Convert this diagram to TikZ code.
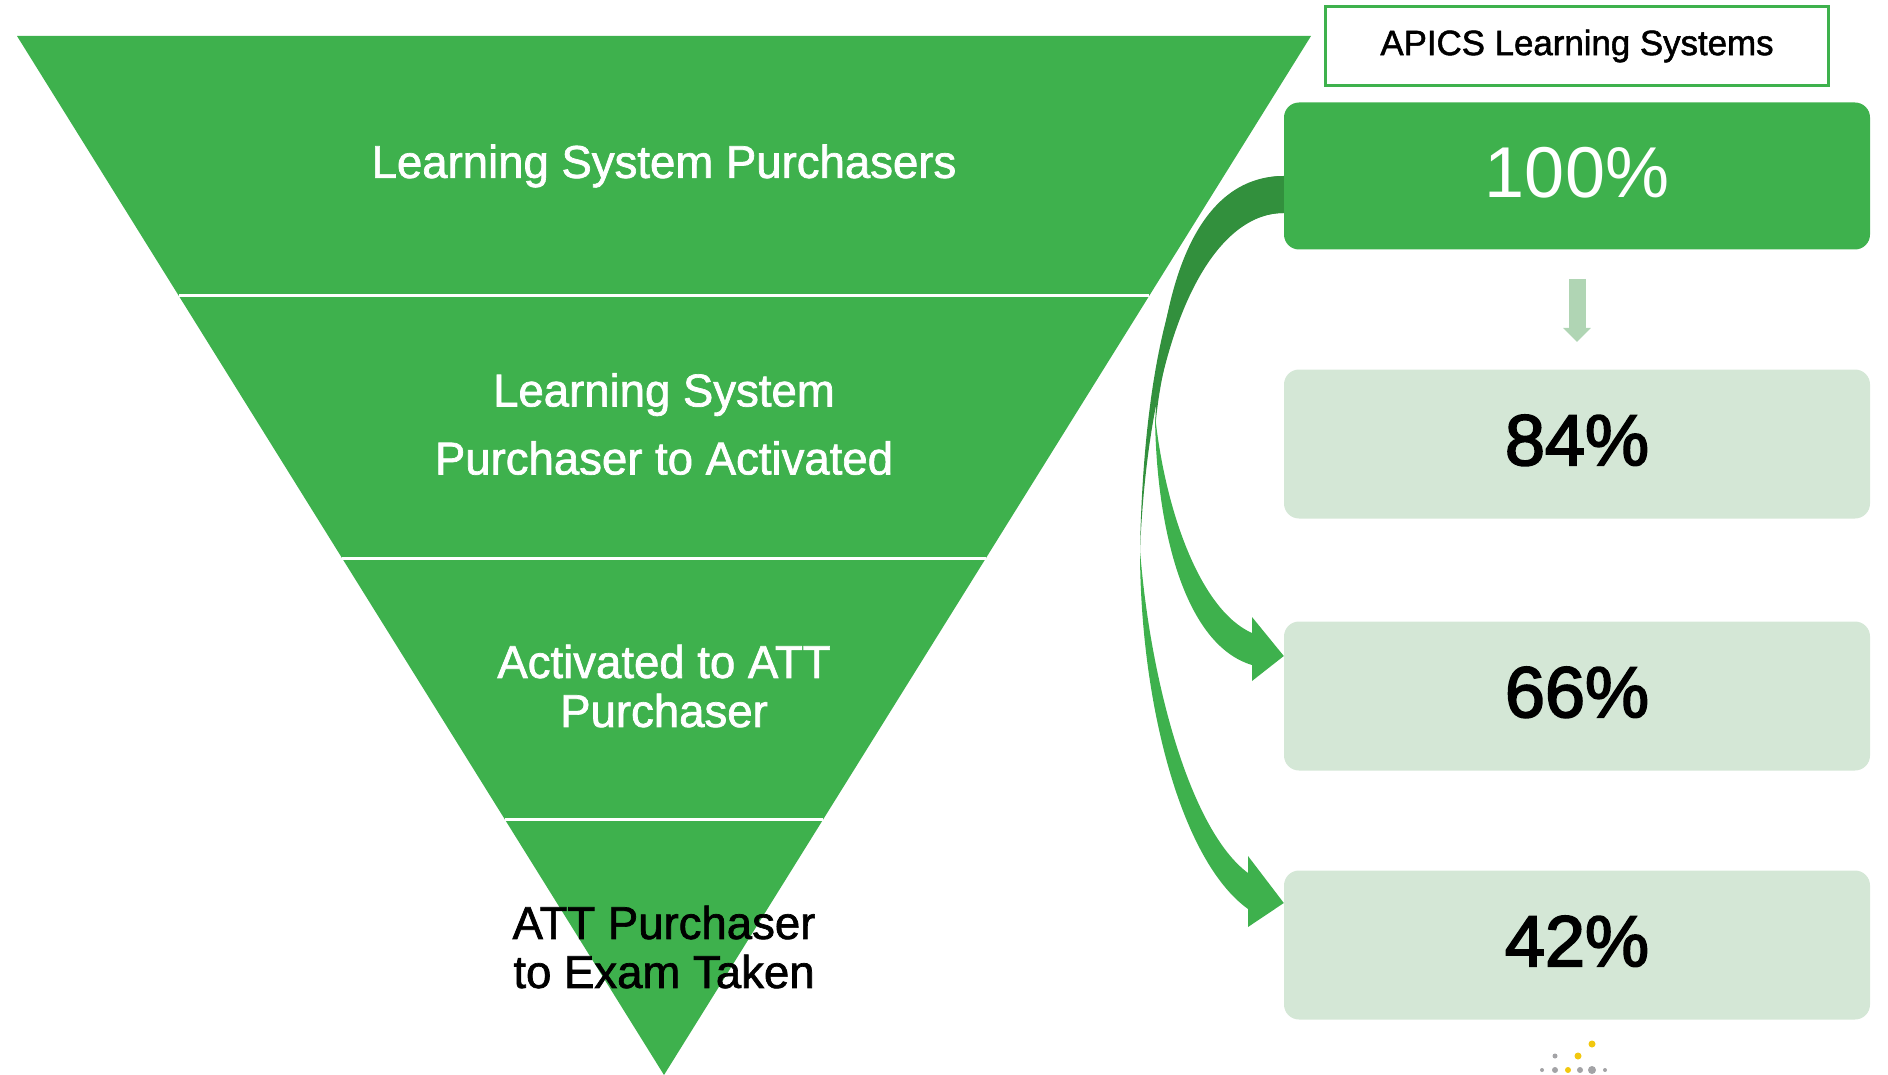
\documentclass[tikz,border=0pt]{standalone}
\usepackage{fontspec}
\setmainfont{Liberation Sans}[FakeStretch=0.99,FakeBold=1.5]
\newfontfamily\pctdark{Liberation Sans}[FakeBold=2.5]
\newfontfamily\pctlight{Liberation Sans}
\usetikzlibrary{arrows.meta}
\definecolor{fgreen}{HTML}{3EB14D}
\definecolor{dgreen}{HTML}{32903D}
\definecolor{pgreen}{HTML}{D4E7D6}
\definecolor{mgreen}{HTML}{B0D5B4}
\definecolor{dgrey}{HTML}{A3A3A6}
\definecolor{dgold}{HTML}{F2C80F}
\newcommand{\pcttxt}[1]{\raisebox{8pt}{#1}}
\tikzset{
  bandline/.style={white,line width=3pt},
  bandtext/.style={font=\fontsize{46}{49}\selectfont,align=center,inner sep=0pt},
  pctbox/.style={rounded corners=15pt,minimum width=586pt,minimum height=149pt,inner sep=0pt,fill=pgreen,font=\fontsize{72}{72}\selectfont\pctdark},
  dot/.style={circle,inner sep=0pt,fill=dgrey,minimum size=#1},
  gdot/.style={circle,inner sep=0pt,fill=dgold,minimum size=#1},
}
\begin{document}
\begin{tikzpicture}[x=1pt,y=-1pt]
\useasboundingbox (0,0) rectangle (1888,1075);
% funnel
\fill[fgreen] (17,36) -- (1311,36) -- (1149.1,296) -- (178.9,296) -- cycle;
\fill[fgreen] (178.9,296) -- (1149.1,296) -- (986,558) -- (342,558) -- cycle;
\fill[fgreen] (342,558) -- (986,558) -- (823.1,819.5) -- (504.9,819.5) -- cycle;
\fill[fgreen] (504.9,819.5) -- (823.1,819.5) -- (664,1075) -- cycle;
\draw[bandline] (178.9,296) -- (1149.1,296);
\draw[bandline] (342,558) -- (986,558);
\draw[bandline] (504.9,819.5) -- (823.1,819.5);
\node[bandtext,text=white] (t1) at (664,166) {Learning System Purchasers};
\node[bandtext,text=white,font=\fontsize{46}{68}\selectfont] (t2) at (664,424) {Learning System\\Purchaser to Activated};
\node[bandtext,text=white] (t3) at (664,686) {Activated to ATT\\Purchaser};
\node[bandtext,text=black] (t4) at (664,947) {ATT Purchaser\\to Exam Taken};
% header
\node[draw=fgreen,line width=3pt,fill=white,minimum width=503pt,minimum height=79pt,inner sep=0pt,font=\fontsize{35.2}{40}\selectfont] (head) at (1577,46) {APICS Learning Systems};
% boxes
\node[pctbox,fill=fgreen,text=white,minimum height=147pt,font=\fontsize{72}{72}\selectfont\pctlight] (b100) at (1577,176) {\pcttxt{100\%}};
\node[pctbox] (b84) at (1577,444) {\pcttxt{84\%}};
\node[pctbox] (b66) at (1577,696) {\pcttxt{66\%}};
\node[pctbox] (b42) at (1577,945) {\pcttxt{42\%}};
% down arrow
\coordinate (d1) at (1577,279);
\coordinate (d2) at (1577,342);
\draw[mgreen,line width=17pt,-{Triangle[width=27pt,length=14pt]}] (d1) -- (d2);
% anchors of the curved arrows
\coordinate (s1) at (b100.west);
\coordinate (s2) at ([yshift=-37pt]b100.west);
\coordinate (tip1) at ([yshift=40pt]b66.west);
\coordinate (tip2) at ([yshift=42pt]b42.west);
% curved arrows, dark back part
\fill[dgreen] (s1) .. controls (1200,176) and (1145,300) .. (1140,550)
  .. controls (1150,320) and (1215,213) .. (s2) -- cycle;
\fill[dgreen] (s1) .. controls (1205,176) and (1160,265) .. (1155,430)
  .. controls (1165,310) and (1215,213) .. (s2) -- cycle;
% front parts
\fill[fgreen] (1155,415) .. controls (1156,530) and (1185,645) .. (1252,665)
  -- (1252,681) -- (tip1) -- (1252,617) -- (1252,633)
  .. controls (1200,610) and (1165,510) .. (1155,415) -- cycle;
\fill[fgreen] (1140,550) .. controls (1140,700) and (1180,860) .. (1248,909)
  -- (1248,927) -- (tip2) -- (1248,856) -- (1248,873)
  .. controls (1190,830) and (1150,680) .. (1140,550) -- cycle;
% logo
\node[gdot=7pt] (g1) at (1592,1044) {};
\node[gdot=7pt] (g2) at (1578,1056) {};
\node[dot=5pt] (l1) at (1555,1056) {};
\node[dot=4pt] (r1) at (1542,1070) {};
\node[dot=6pt] (r2) at (1555,1070) {};
\node[gdot=6pt] (r3) at (1568,1070) {};
\node[dot=6pt] (r4) at (1580,1070) {};
\node[dot=8pt] (r5) at (1592,1070) {};
\node[dot=4pt] (r6) at (1605,1070) {};
\end{tikzpicture}
\end{document}
